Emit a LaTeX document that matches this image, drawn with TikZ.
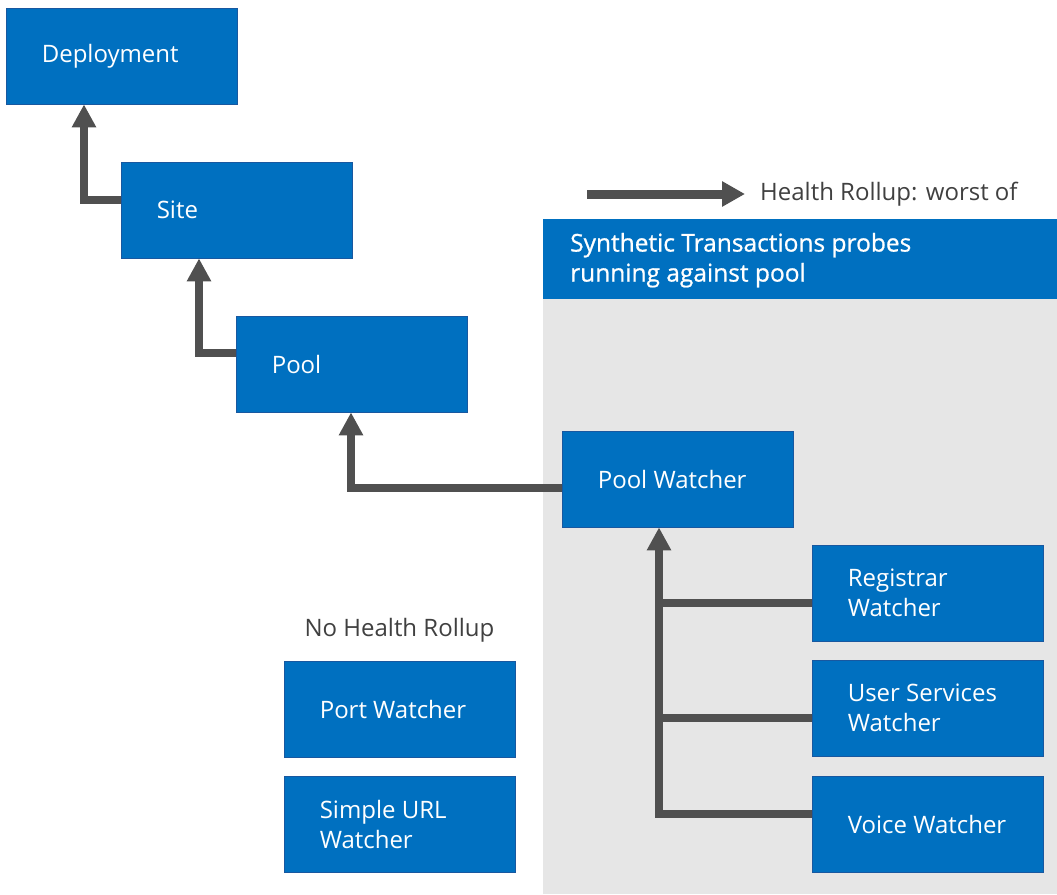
\documentclass[tikz,border=0pt]{standalone}
\usepackage{fontspec}
\setmainfont{Open Sans}
\newfontfamily\headfont[FakeBold=0.8]{Open Sans}
\usetikzlibrary{arrows.meta,positioning}
\definecolor{boxblue}{RGB}{0,112,192}
\definecolor{boxedge}{RGB}{24,88,160}
\definecolor{linkgray}{RGB}{80,80,80}
\definecolor{panelgray}{RGB}{230,230,230}
\definecolor{notegray}{RGB}{64,64,64}
\begin{document}
\begin{tikzpicture}[x=1pt,y=-1pt,
  box/.style={draw=boxedge, line width=0.8pt, fill=boxblue,
    minimum width=231pt, minimum height=96pt, inner sep=0pt},
  boxtext/.style={text=white, align=left, inner sep=0pt,
    font=\fontsize{24}{30}\selectfont},
  note/.style={text=notegray, inner sep=0pt,
    font=\fontsize{24}{30}\selectfont},
  link/.style={draw=linkgray, line width=8pt},
  rollup/.style={link, -{Triangle[length=23pt,width=23pt]}},
  node distance=0pt]
\useasboundingbox (0,0) rectangle (1057,894);

% shaded area for the synthetic transaction probes
\fill[panelgray] (543,220) rectangle (1057,894);
\node[fill=boxblue, minimum width=514pt, minimum height=80pt, inner sep=0pt,
  anchor=north west] (probes) at (543,219) {};
\node[boxtext, font=\headfont\fontsize{24.5}{30}\selectfont,
  right=27pt of probes.west, yshift=-1pt] (probes-t)
  {Synthetic Transactions probes\\running against pool};

% legend
\coordinate (leg-a) at (587,194);
\coordinate (leg-b) at (745,194);
\draw[link, line width=9pt, -{Triangle[length=23pt,width=24pt]}] (leg-a) -- (leg-b);
\node[note, anchor=west] (leg-t) at (760,194) {Health Rollup: worst of};

% hierarchy boxes
\node[box] (dep)  at (121.5,56)  {};
\node[box] (site) at (236.5,210) {};
\node[box] (pool) at (351.5,364) {};
\node[box] (pw)   at (677.5,479) {};
\node[box] (reg)  at (927.5,593) {};
\node[box] (usr)  at (927.5,708) {};
\node[box] (voi)  at (927.5,824) {};
\node[box] (port) at (399.5,709) {};
\node[box] (url)  at (399.5,824) {};

\node[boxtext, right=36pt of dep.west]  (dep-t)  {Deployment};
\node[boxtext, right=36pt of site.west] (site-t) {Site};
\node[boxtext, right=36pt of pool.west] (pool-t) {Pool};
\node[boxtext, right=36pt of pw.west]   (pw-t)   {Pool Watcher};
\node[boxtext, right=36pt of reg.west]  (reg-t)  {Registrar\\Watcher};
\node[boxtext, right=36pt of usr.west]  (usr-t)  {User Services\\Watcher};
\node[boxtext, right=36pt of voi.west]  (voi-t)  {Voice Watcher};
\node[boxtext, right=36pt of port.west] (port-t) {Port Watcher};
\node[boxtext, right=36pt of url.west]  (url-t)  {Simple URL\\Watcher};

\node[note] (none-t) at (399.5,630) {No Health Rollup};

% rollup connectors
\draw[rollup] ([yshift=10pt]site.west) -| (dep.south -| 84,0);
\draw[rollup] ([yshift=11pt]pool.west) -| (site.south -| 199,0);
\draw[rollup] ([yshift=-9pt]pw.west) -| (pool.south -| 351,0);
\draw[rollup] ([yshift=10pt]voi.west) -| (pw.south -| 659,0);
\draw[link] ([yshift=-10pt]reg.west) -- (659,603);
\draw[link] ([yshift=-10pt]usr.west) -- (659,718);
\end{tikzpicture}
\end{document}
